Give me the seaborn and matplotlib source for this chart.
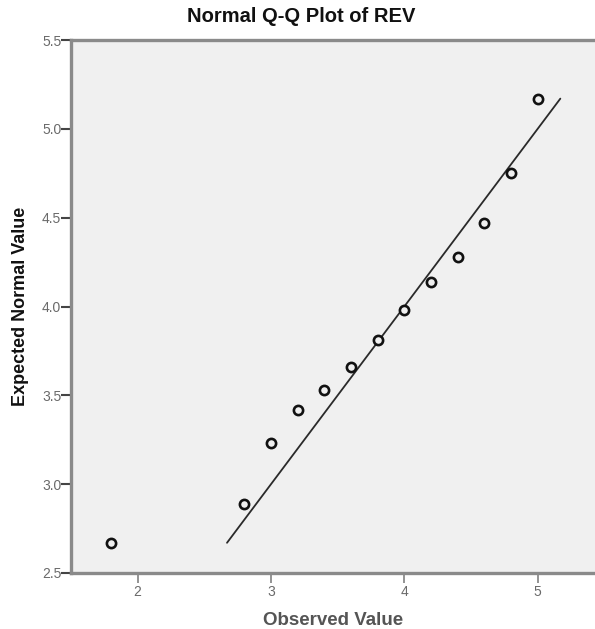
import matplotlib
matplotlib.use("Agg")
import matplotlib.pyplot as plt
import seaborn as sns
import pandas as pd

# Observed values of REV and their expected normal quantiles
observed = [1.8, 2.8, 3.0, 3.2, 3.4, 3.6, 3.8, 4.0, 4.2, 4.4, 4.6, 4.8, 5.0]
expected = [2.67, 2.89, 3.23, 3.42, 3.53, 3.66, 3.81, 3.98, 4.14, 4.28, 4.47, 4.75, 5.17]

# Reference line y = x spanning the expected range
line_x = [2.67, 5.17]
line_y = [2.67, 5.17]

x_ticks = [2, 3, 4, 5]
y_ticks = [2.5, 3.0, 3.5, 4.0, 4.5, 5.0, 5.5]

sns.set_theme(style="white")
plt.rcParams["font.family"] = ["Liberation Sans", "DejaVu Sans"]

df = pd.DataFrame({"Observed Value": observed, "Expected Normal Value": expected})
ref = pd.DataFrame({"x": line_x, "y": line_y})

fig = plt.figure(figsize=(5.95, 6.29), dpi=100)
ax = fig.add_axes([71 / 595, 1 - 573 / 629, 1 - 71 / 595, (573 - 40) / 629])
ax.set_facecolor("#f0f0f0")

sns.lineplot(data=ref, x="x", y="y", ax=ax, color="#2a2a2a", linewidth=1.3)
sns.scatterplot(data=df, x="Observed Value", y="Expected Normal Value", ax=ax,
                s=44, facecolor="#f0f0f0", edgecolor="#111111", linewidth=1.9,
                zorder=3)

ax.set_xlim(1.5, 5.43)
ax.set_ylim(2.5, 5.5)
ax.set_xticks(x_ticks)
ax.set_xticklabels([str(t) for t in x_ticks])
ax.set_yticks(y_ticks)
ax.set_yticklabels([f"{t:.1f}" for t in y_ticks])

for side in ["left", "bottom", "top"]:
    ax.spines[side].set_visible(True)
    ax.spines[side].set_color("#8a8a8a")
    ax.spines[side].set_linewidth(2.4)
ax.spines["right"].set_visible(False)

ax.tick_params(axis="both", which="major", direction="out", labelsize=10,
               labelcolor="#6a6a6a")
ax.tick_params(axis="x", bottom=True, length=7, width=1.1, color="#777777", pad=2)
ax.tick_params(axis="y", left=True, length=7, width=1.5, color="#444444", pad=0)

ax.set_xlabel("Observed Value", fontsize=13.5, fontweight="bold", color="#555555", labelpad=9)
ax.set_ylabel("Expected Normal Value", fontsize=13, fontweight="bold", color="#111111", labelpad=9)

fig.text(0.506, 1 - 17 / 629, "Normal Q-Q Plot of REV", ha="center", va="center",
         fontsize=14.5, fontweight="bold", color="#111111")

fig.savefig("out.png", dpi=100)
